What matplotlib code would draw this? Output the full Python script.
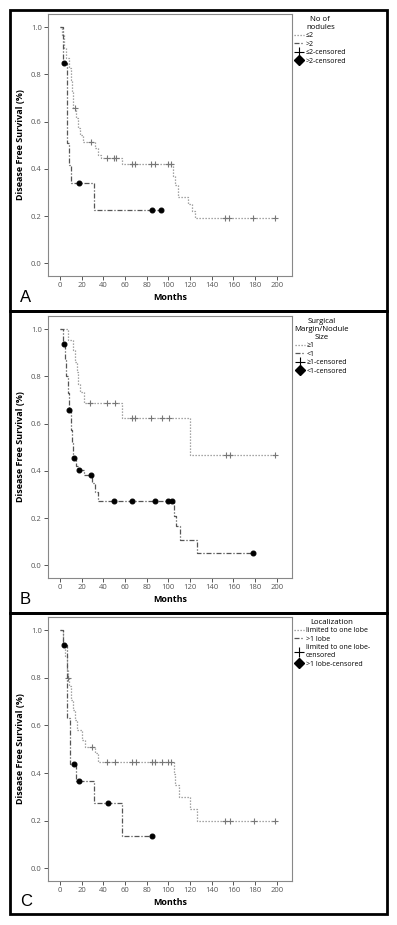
import numpy as np
import matplotlib
matplotlib.use("Agg")
import matplotlib.pyplot as plt
from matplotlib.lines import Line2D
from matplotlib.patches import Rectangle

plt.rcParams['font.family'] = ['Open Sans', 'DejaVu Sans']

# Panel A - number of nodules
a_le2_t = [0, 2, 4, 6, 8, 10, 11.5, 12.5, 14.5, 16.3, 18.4, 21.5, 32, 35, 38, 57, 104, 106, 109, 118, 122, 125]
a_le2_s = [1.0, 0.967, 0.911, 0.869, 0.826, 0.777, 0.727, 0.657, 0.614, 0.572, 0.544, 0.515, 0.487, 0.46, 0.447, 0.42, 0.37, 0.33, 0.28, 0.25, 0.22, 0.19]
a_le2_c = [13.5, 28.6, 43, 50, 52, 66, 69, 84, 88, 100, 102, 152, 156, 178, 198]
a_gt2_t = [0, 2.5, 6.4, 8.3, 9.8, 31]
a_gt2_s = [1.0, 0.847, 0.511, 0.417, 0.339, 0.226]
a_gt2_c = [3.7, 17.8, 84.5, 93.5]

# Panel B - surgical margin / nodule size
b_ge1_t = [0, 7.7, 12.3, 14, 15.4, 17, 18.5, 22.5, 57.4, 120.4]
b_ge1_s = [1.0, 0.955, 0.913, 0.86, 0.82, 0.77, 0.736, 0.687, 0.623, 0.468]
b_ge1_c = [28, 43, 51, 66, 69, 84, 93.7, 100.7, 153, 157, 198]
b_lt1_t = [0, 2.5, 5, 6, 7, 8, 10, 11.4, 12.5, 15, 16.5, 22, 30, 32, 35, 105.5, 107, 110.8, 126.8]
b_lt1_s = [1.0, 0.938, 0.87, 0.80, 0.73, 0.659, 0.574, 0.518, 0.454, 0.419, 0.405, 0.384, 0.35, 0.31, 0.271, 0.207, 0.165, 0.107, 0.054]
b_lt1_c = [3.7, 8.3, 13.2, 17.2, 28.6, 50, 66, 88, 100, 103, 177.8]

# Panel C - localization
c_one_t = [0, 3, 4.6, 6.1, 7.7, 8.3, 10.1, 11.7, 13.8, 16, 20, 23, 32.3, 35.3, 105.2, 106.5, 110, 120, 126]
c_one_s = [1.0, 0.94, 0.89, 0.834, 0.80, 0.764, 0.708, 0.665, 0.623, 0.581, 0.539, 0.51, 0.483, 0.447, 0.395, 0.349, 0.30, 0.25, 0.198]
c_one_c = [7.9, 29.2, 43, 51, 66, 70, 85, 88, 94, 100, 102, 152, 157, 178.5, 198.5]
c_gt1_t = [0, 2.5, 6.5, 9.5, 14.5, 31, 57]
c_gt1_s = [1.0, 0.94, 0.63, 0.437, 0.366, 0.274, 0.137]
c_gt1_c = [3.7, 13.2, 17.8, 43.9, 84.5]

panels = [
    ("A", "No of\nnodules", ["≤2", ">2", "≤2-censored", ">2-censored"],
     (a_le2_t, a_le2_s, a_le2_c), (a_gt2_t, a_gt2_s, a_gt2_c)),
    ("B", "Surgical\nMargin/Nodule\nSize", ["≥1", "<1", "≥1-censored", "<1-censored"],
     (b_ge1_t, b_ge1_s, b_ge1_c), (b_lt1_t, b_lt1_s, b_lt1_c)),
    ("C", "Localization", ["limited to one lobe", ">1 lobe", "limited to one lobe-\ncensored", ">1 lobe-censored"],
     (c_one_t, c_one_s, c_one_c), (c_gt1_t, c_gt1_s, c_gt1_c)),
]

W, H = 397, 925
fig = plt.figure(figsize=(W / 100, H / 100), dpi=100)

# pixel boxes: (border top, border bottom, axes top, axes bottom)
boxes = [(10, 311, 14, 276), (311, 613, 316, 578), (613, 914, 617, 881)]

dotted = (0, (1, 1.4))
dashdot = (0, (4, 1.5, 1, 1.5))


def km_line(ax, t, s, c, ls, color, mk, mcol, ms):
    t = np.asarray(t, float)
    s = np.asarray(s, float)
    c = np.asarray(c, float)
    end = max(t[-1], c.max())
    xs = np.append(t, end)
    ys = np.append(s, s[-1])
    ax.step(xs, ys, where='post', linestyle=ls, color=color, lw=0.9)
    cy = s[np.searchsorted(t, c, side='right') - 1]
    ax.plot(c, cy, linestyle='none', marker=mk, color=mcol, ms=ms, mew=0.8)


for (letter, title, labels, g1, g2), (btop, bbot, atop, abot) in zip(panels, boxes):
    fig.add_artist(Rectangle((10 / W, 1 - bbot / H), 377 / W, (bbot - btop) / H,
                             transform=fig.transFigure, fill=False, lw=2, ec='black'))
    ax = fig.add_axes([48 / W, 1 - abot / H, 244 / W, (abot - atop) / H])
    km_line(ax, *g1, dotted, '#8a8a8a', '+', '#777777', 4)
    km_line(ax, *g2, dashdot, '#555555', 'o', 'black', 3.5)
    ax.set_xlim(-11, 214)
    ax.set_ylim(-0.054, 1.056)
    ax.set_xticks(range(0, 201, 20))
    ax.set_yticks([0, 0.2, 0.4, 0.6, 0.8, 1.0])
    ax.yaxis.set_major_formatter(matplotlib.ticker.FormatStrFormatter('%.1f'))
    ax.tick_params(labelsize=5.5, colors='#555555', length=3, width=0.7, pad=1.5)
    for sp in ax.spines.values():
        sp.set_color('#888888')
        sp.set_linewidth(0.8)
    ax.set_xlabel("Months", fontsize=6.5, fontweight='bold', labelpad=3)
    ax.set_ylabel("Disease Free Survival (%)", fontsize=6.5, fontweight='bold', labelpad=4)
    handles = [Line2D([], [], linestyle=dotted, color='#8a8a8a', lw=0.9),
               Line2D([], [], linestyle=dashdot, color='#555555', lw=0.9),
               Line2D([], [], linestyle='none', marker='+', color='black', ms=7, mew=0.8),
               Line2D([], [], linestyle='none', marker='D', color='black', ms=5)]
    leg = ax.legend(handles, labels, title=title, loc='upper left', bbox_to_anchor=(1.0, 1.0),
                    frameon=False, fontsize=5, title_fontsize=5.6, handlelength=1.4,
                    handletextpad=0.3, labelspacing=0.2, borderaxespad=0.1, borderpad=0.2)
    leg.get_title().set_multialignment('center')
    fig.text(20 / W, 1 - (bbot - 13) / H, letter, fontsize=12, family='Liberation Sans', va='center')

fig.savefig("out.png", dpi=100)
